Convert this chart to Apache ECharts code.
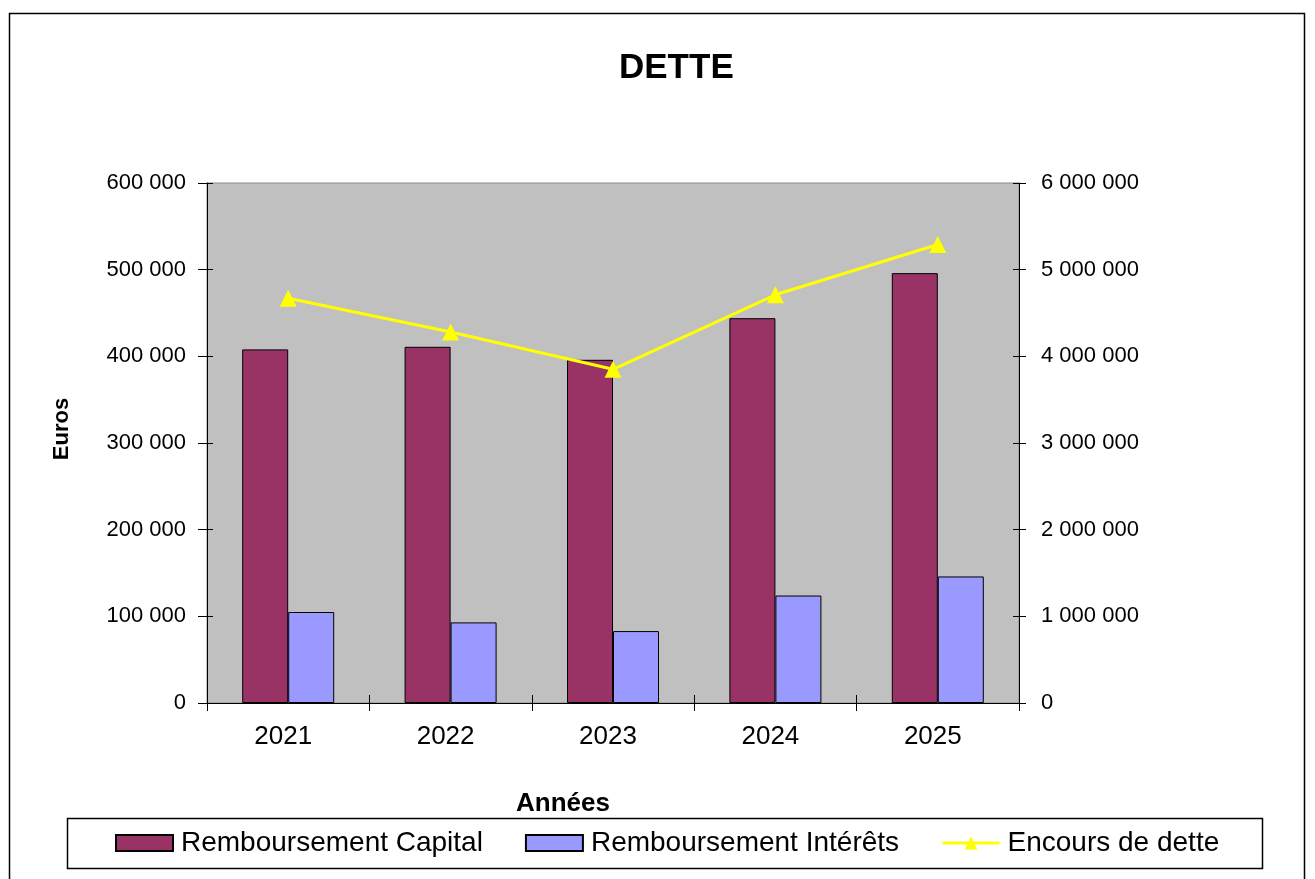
<!DOCTYPE html>
<html>
<head>
<meta charset="utf-8">
<script src="https://cdn.jsdelivr.net/npm/echarts@6/dist/echarts.min.js"></script>
<style>
  html, body { margin: 0; padding: 0; background: #fff; }
  #chart { width: 1315px; height: 879px; }
</style>
</head>
<body>
<div id="chart"></div>
<script>
// Years on the category axis
const annees = ['2021', '2022', '2023', '2024', '2025'];
// Annual capital repayment (euros, left axis)
const remboursementCapital = [408000, 411000, 396000, 444000, 496000];
// Annual interest repayment (euros, left axis)
const remboursementInterets = [105000, 93000, 83000, 124000, 146000];
// Outstanding debt at year end (euros, right axis)
const encoursDette = [4670000, 4280000, 3850000, 4710000, 5290000];

const FONT = '"Liberation Sans", Arial, sans-serif';

// French-style thousands separator: 600 000
function fmt(v) {
  return String(v).replace(/\B(?=(\d{3})+(?!\d))/g, ' ');
}

const chart = echarts.init(document.getElementById('chart'), null, { renderer: 'canvas' });

const tickLine = { color: '#000', width: 1 };

chart.setOption({
  animation: false,
  backgroundColor: '#ffffff',
  textStyle: { fontFamily: FONT },
  title: {
    text: 'DETTE',
    left: 619,
    top: 51,
    padding: 0,
    textStyle: { fontFamily: FONT, fontSize: 35, fontWeight: 'bold', color: '#000', lineHeight: 35 }
  },
  grid: {
    left: 207, right: 296, top: 183, bottom: 176,
    show: true, backgroundColor: '#c0c0c0', borderColor: '#8a8a8a', borderWidth: 1
  },
  legend: {
    left: 115,
    top: 829,
    padding: 0,
    itemGap: 42,
    itemWidth: 57,
    itemHeight: 16,
    textStyle: { fontFamily: FONT, fontSize: 28, color: '#000', padding: [0, 0, 0, 3] },
    data: [
      { name: 'Remboursement Capital', icon: 'rect' },
      { name: 'Remboursement Intérêts', icon: 'rect' },
      { name: 'Encours de dette', lineStyle: { width: 3 } }
    ]
  },
  graphic: [
    // outer chart frame
    { type: 'rect', shape: { x: 9.5, y: 13.5, width: 1295, height: 900 },
      style: { fill: 'none', stroke: '#000', lineWidth: 1.5 }, z: -1 },
    // legend frame
    { type: 'rect', shape: { x: 67.5, y: 818.5, width: 1195, height: 50 },
      style: { fill: '#fff', stroke: '#000', lineWidth: 1.5 }, z: -1 },
    // category axis title
    { type: 'text', left: 516, top: 791,
      style: { text: 'Années', font: 'bold 26px ' + FONT, fill: '#000' } },
    // value axis title
    { type: 'text', x: 62, y: 429, rotation: Math.PI / 2,
      style: { text: 'Euros', font: 'bold 22px ' + FONT, fill: '#000',
               align: 'center', verticalAlign: 'middle' } }
  ],
  xAxis: [
    {
      type: 'category',
      data: annees,
      boundaryGap: true,
      axisLine: { show: true, lineStyle: tickLine },
      axisTick: { show: true, length: 8, lineStyle: tickLine },
      axisLabel: { fontFamily: FONT, fontSize: 26, color: '#000', margin: 21, padding: [0, 10, 0, 0] }
    },
    {
      // inner half of the crossing ticks
      type: 'category',
      data: annees,
      position: 'bottom',
      boundaryGap: true,
      axisLine: { show: false },
      axisTick: { show: true, inside: true, length: 8, lineStyle: tickLine },
      axisLabel: { show: false }
    }
  ],
  yAxis: [
    {
      type: 'value',
      min: 0, max: 600000, interval: 100000,
      position: 'left',
      axisLine: { show: true, lineStyle: tickLine },
      axisTick: { show: true, length: 9, lineStyle: tickLine },
      axisLabel: { fontFamily: FONT, fontSize: 22, color: '#000', margin: 21, formatter: fmt },
      splitLine: { show: false }
    },
    {
      type: 'value',
      min: 0, max: 6000000, interval: 1000000,
      position: 'right',
      axisLine: { show: true, lineStyle: tickLine },
      axisTick: { show: true, length: 7, lineStyle: tickLine },
      axisLabel: { fontFamily: FONT, fontSize: 22, color: '#000', margin: 22, formatter: fmt },
      splitLine: { show: false }
    },
    {
      // inner half of the left crossing ticks
      type: 'value',
      min: 0, max: 600000, interval: 100000,
      position: 'left',
      axisLine: { show: false },
      axisTick: { show: true, inside: true, length: 6, lineStyle: tickLine },
      axisLabel: { show: false },
      splitLine: { show: false }
    },
    {
      // inner half of the right crossing ticks
      type: 'value',
      min: 0, max: 6000000, interval: 1000000,
      position: 'right',
      axisLine: { show: false },
      axisTick: { show: true, inside: true, length: 6, lineStyle: tickLine },
      axisLabel: { show: false },
      splitLine: { show: false }
    }
  ],
  series: [
    {
      name: 'Remboursement Capital',
      type: 'bar',
      yAxisIndex: 0,
      barWidth: 46,
      barGap: '0%',
      data: remboursementCapital,
      itemStyle: { color: '#993366', borderColor: '#000', borderWidth: 1 }
    },
    {
      name: 'Remboursement Intérêts',
      type: 'bar',
      yAxisIndex: 0,
      barWidth: 46,
      barGap: '0%',
      data: remboursementInterets,
      itemStyle: { color: '#9999ff', borderColor: '#000', borderWidth: 1 }
    },
    {
      name: 'Encours de dette',
      type: 'line',
      yAxisIndex: 1,
      data: encoursDette,
      symbol: 'triangle',
      symbolSize: 17,
      z: 5,
      lineStyle: { color: '#ffff00', width: 3 },
      itemStyle: { color: '#ffff00', borderWidth: 0 }
    }
  ]
});
</script>
</body>
</html>
